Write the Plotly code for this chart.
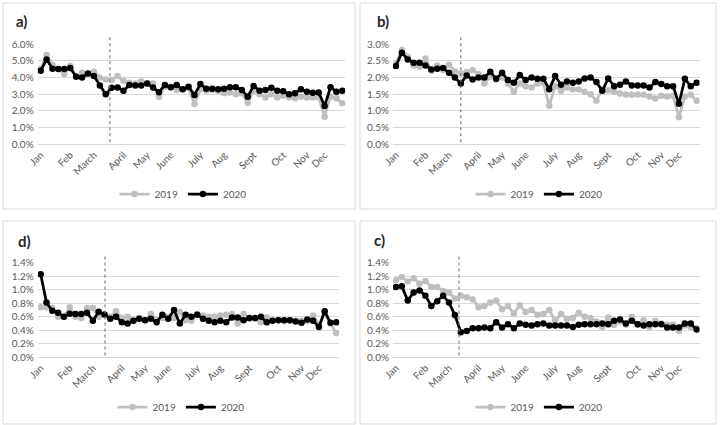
import plotly.graph_objects as go

# ---------------- data (percent values, weekly) ----------------
weeks = list(range(52))
month_labels = ["Jan", "Feb", "March", "April", "May", "June", "July", "Aug", "Sept", "Oct", "Nov", "Dec"]
month_weeks = [0, 5, 9, 14, 18, 22, 27, 31, 36, 41, 45, 48]

a_2019 = [4.50, 5.34, 4.74, 4.50, 4.20, 4.68, 4.05, 4.28, 4.20, 4.34,
          4.00, 3.88, 3.84, 4.08, 3.80, 3.68, 3.64, 3.76, 3.64, 3.64,
          2.85, 3.45, 3.45, 3.25, 3.30, 3.35, 2.41, 3.30, 3.20, 3.25,
          3.20, 3.05, 3.10, 3.00, 3.05, 2.49, 3.20, 3.00, 2.80, 3.00,
          2.80, 2.90, 2.80, 2.75, 2.85, 2.80, 2.80, 2.80, 1.65, 2.85,
          2.75, 2.45]
a_2020 = [4.40, 5.08, 4.52, 4.50, 4.50, 4.56, 4.04, 4.00, 4.24, 4.08,
          3.52, 2.99, 3.39, 3.40, 3.20, 3.55, 3.52, 3.52, 3.64, 3.40,
          3.12, 3.55, 3.41, 3.55, 3.29, 3.45, 2.95, 3.60, 3.33, 3.33,
          3.29, 3.33, 3.41, 3.41, 3.25, 2.85, 3.49, 3.21, 3.25, 3.39,
          3.21, 3.17, 2.99, 3.05, 3.29, 3.15, 3.09, 3.10, 2.29, 3.41,
          3.15, 3.21]

b_2019 = [2.42, 2.82, 2.62, 2.36, 2.32, 2.57, 2.20, 2.36, 2.22, 2.38,
          2.18, 2.12, 2.16, 2.22, 2.10, 1.82, 2.02, 1.94, 2.00, 1.82,
          1.57, 1.82, 1.74, 1.70, 1.82, 1.84, 1.15, 1.74, 1.60, 1.70,
          1.64, 1.64, 1.57, 1.50, 1.30, 1.64, 1.62, 1.57, 1.52, 1.49,
          1.48, 1.49, 1.48, 1.43, 1.37, 1.45, 1.43, 1.45, 0.81, 1.43,
          1.48, 1.30]
b_2020 = [2.34, 2.74, 2.54, 2.44, 2.44, 2.36, 2.24, 2.26, 2.28, 2.14,
          2.00, 1.82, 2.06, 1.94, 2.00, 2.00, 2.17, 1.96, 2.14, 1.92,
          1.84, 2.07, 1.92, 2.00, 1.96, 1.96, 1.65, 2.04, 1.78, 1.88,
          1.84, 1.88, 1.97, 2.00, 1.86, 1.60, 1.97, 1.74, 1.78, 1.88,
          1.76, 1.76, 1.76, 1.70, 1.86, 1.80, 1.74, 1.74, 1.21, 1.96,
          1.74, 1.84]

d_2019 = [0.74, 0.74, 0.73, 0.60, 0.60, 0.74, 0.60, 0.58, 0.73, 0.73,
          0.60, 0.63, 0.60, 0.68, 0.58, 0.60, 0.55, 0.58, 0.55, 0.64,
          0.55, 0.58, 0.60, 0.58, 0.67, 0.55, 0.54, 0.64, 0.62, 0.60,
          0.60, 0.62, 0.63, 0.64, 0.50, 0.64, 0.57, 0.57, 0.52, 0.59,
          0.55, 0.55, 0.54, 0.54, 0.54, 0.54, 0.54, 0.62, 0.48, 0.64,
          0.50, 0.36]
d_2020 = [1.23, 0.81, 0.69, 0.66, 0.60, 0.645, 0.64, 0.64, 0.66, 0.54,
          0.675, 0.635, 0.57, 0.60, 0.52, 0.50, 0.54, 0.57, 0.55, 0.57,
          0.52, 0.63, 0.57, 0.70, 0.50, 0.63, 0.60, 0.63, 0.57, 0.54,
          0.52, 0.54, 0.52, 0.59, 0.59, 0.55, 0.58, 0.58, 0.60, 0.52,
          0.54, 0.55, 0.55, 0.55, 0.53, 0.51, 0.56, 0.54, 0.45, 0.68,
          0.51, 0.52]

c_2019 = [1.14, 1.19, 1.12, 1.17, 1.09, 1.13, 1.04, 1.04, 0.98, 0.96,
          0.87, 0.91, 0.89, 0.86, 0.74, 0.76, 0.81, 0.84, 0.71, 0.76,
          0.65, 0.77, 0.67, 0.70, 0.63, 0.64, 0.70, 0.54, 0.64, 0.57,
          0.58, 0.66, 0.60, 0.58, 0.53, 0.45, 0.59, 0.48, 0.53, 0.48,
          0.60, 0.48, 0.55, 0.45, 0.54, 0.50, 0.48, 0.48, 0.39, 0.47,
          0.45, 0.43]
c_2020 = [1.04, 1.05, 0.84, 0.96, 0.99, 0.91, 0.76, 0.83, 0.91, 0.81,
          0.625, 0.37, 0.39, 0.43, 0.43, 0.44, 0.43, 0.52, 0.44, 0.49,
          0.43, 0.50, 0.48, 0.47, 0.49, 0.50, 0.47, 0.47, 0.47, 0.47,
          0.45, 0.48, 0.49, 0.49, 0.49, 0.50, 0.49, 0.54, 0.56, 0.50,
          0.54, 0.49, 0.47, 0.49, 0.49, 0.49, 0.44, 0.44, 0.44, 0.50,
          0.50, 0.41]

panel_names = ["a)", "b)", "d)", "c)"]
series_2019 = [a_2019, b_2019, d_2019, c_2019]
series_2020 = [a_2020, b_2020, d_2020, c_2020]
y_max = [0.06, 0.03, 0.014, 0.014]
y_step = [0.01, 0.005, 0.002, 0.002]
lockdown_week = [11.7, 11.0, 11.1, 10.7]

# ---------------- layout helpers (pixel geometry) ----------------
W, H = 720, 425
def px(x):
    return x / W
def py(y):
    return 1 - y / H

# plot areas: (left, right, top, bottom) in pixels
areas = [(37.7, 345.3, 44.0, 144.3),
         (393.0, 699.6, 44.0, 144.3),
         (37.8, 339.2, 262.7, 357.3),
         (393.0, 699.6, 262.7, 357.3)]
boxes = [(3, 355, 3, 209), (360, 716, 3, 209), (3, 355, 221, 424), (360, 716, 221, 424)]
title_pos = [(21.7, 20.7), (383, 21), (24, 241), (379, 240)]
legend_pos = [(183, 194), (539, 194), (181, 407), (539, 407)]

FONT = "Lato, 'Open Sans', sans-serif"
GREY_TXT = "#595959"
GRID = "#D9D9D9"
C2019 = "#BFBFBF"
C2020 = "#000000"

fig = go.Figure()
layout = dict(width=W, height=H, margin=dict(l=0, r=0, t=0, b=0, pad=0, autoexpand=False),
              paper_bgcolor="white", plot_bgcolor="white",
              font=dict(family=FONT, size=10, color=GREY_TXT),
              shapes=[], annotations=[])

for i in range(4):
    ax = "" if i == 0 else str(i + 1)
    xref, yref = "x" + ax, "y" + ax
    leg = "legend" if i == 0 else "legend" + str(i + 1)
    for name, vals, col in (("2019", series_2019[i], C2019), ("2020", series_2020[i], C2020)):
        fig.add_trace(go.Scatter(
            x=weeks, y=[v / 100 for v in vals], name=name, mode="lines+markers",
            line=dict(color=col, width=2.75), marker=dict(color=col, size=6.5),
            xaxis=xref, yaxis=yref, legend=leg, hoverinfo="skip"))
    l, r, t, b = areas[i]
    layout["xaxis" + ax] = dict(domain=[px(l), px(r)], range=[-0.5, 51.5], anchor=yref,
                                automargin=False,
                                tickmode="array", tickvals=month_weeks, ticktext=month_labels,
                                tickangle=-45, showgrid=False, zeroline=False, ticks="",
                                showline=True, linecolor=GRID, linewidth=1,
                                tickfont=dict(size=10, color=GREY_TXT, family=FONT))
    layout["yaxis" + ax] = dict(domain=[py(b), py(t)], range=[0, y_max[i]], anchor=xref,
                                automargin=False, ticklabelstandoff=3,
                                dtick=y_step[i], tick0=0, tickformat=".1%",
                                showgrid=True, gridcolor=GRID, gridwidth=1,
                                zeroline=True, zerolinecolor=GRID, showline=False, ticks="",
                                tickfont=dict(size=10, color=GREY_TXT, family=FONT))
    bx0, bx1, by0, by1 = boxes[i]
    layout["shapes"].append(dict(type="rect", xref="paper", yref="paper",
                                 x0=px(bx0), x1=px(bx1), y0=py(by1), y1=py(by0),
                                 line=dict(color=GRID, width=1), layer="below"))
    layout["shapes"].append(dict(type="line", xref=xref, yref=yref + " domain",
                                 x0=lockdown_week[i], x1=lockdown_week[i], y0=0.02, y1=1.09,
                                 line=dict(color="#7F7F7F", width=1.2, dash="dot")))
    tx, ty = title_pos[i]
    layout["annotations"].append(dict(text="<b>" + panel_names[i] + "</b>", xref="paper", yref="paper",
                                      x=px(tx), y=py(ty), xanchor="center", yanchor="middle",
                                      showarrow=False,
                                      font=dict(size=15, color="#262626", family=FONT)))
    lx, ly = legend_pos[i]
    layout[leg] = dict(orientation="h", x=px(lx), y=py(ly), xanchor="center", yanchor="middle",
                       font=dict(size=10, color=GREY_TXT, family=FONT),
                       bgcolor="rgba(0,0,0,0)", itemwidth=30)

fig.update_layout(**layout)
fig.write_html("out.html", config={"displayModeBar": False},
               post_script="document.body.style.margin='0';document.body.style.overflow='hidden';")
